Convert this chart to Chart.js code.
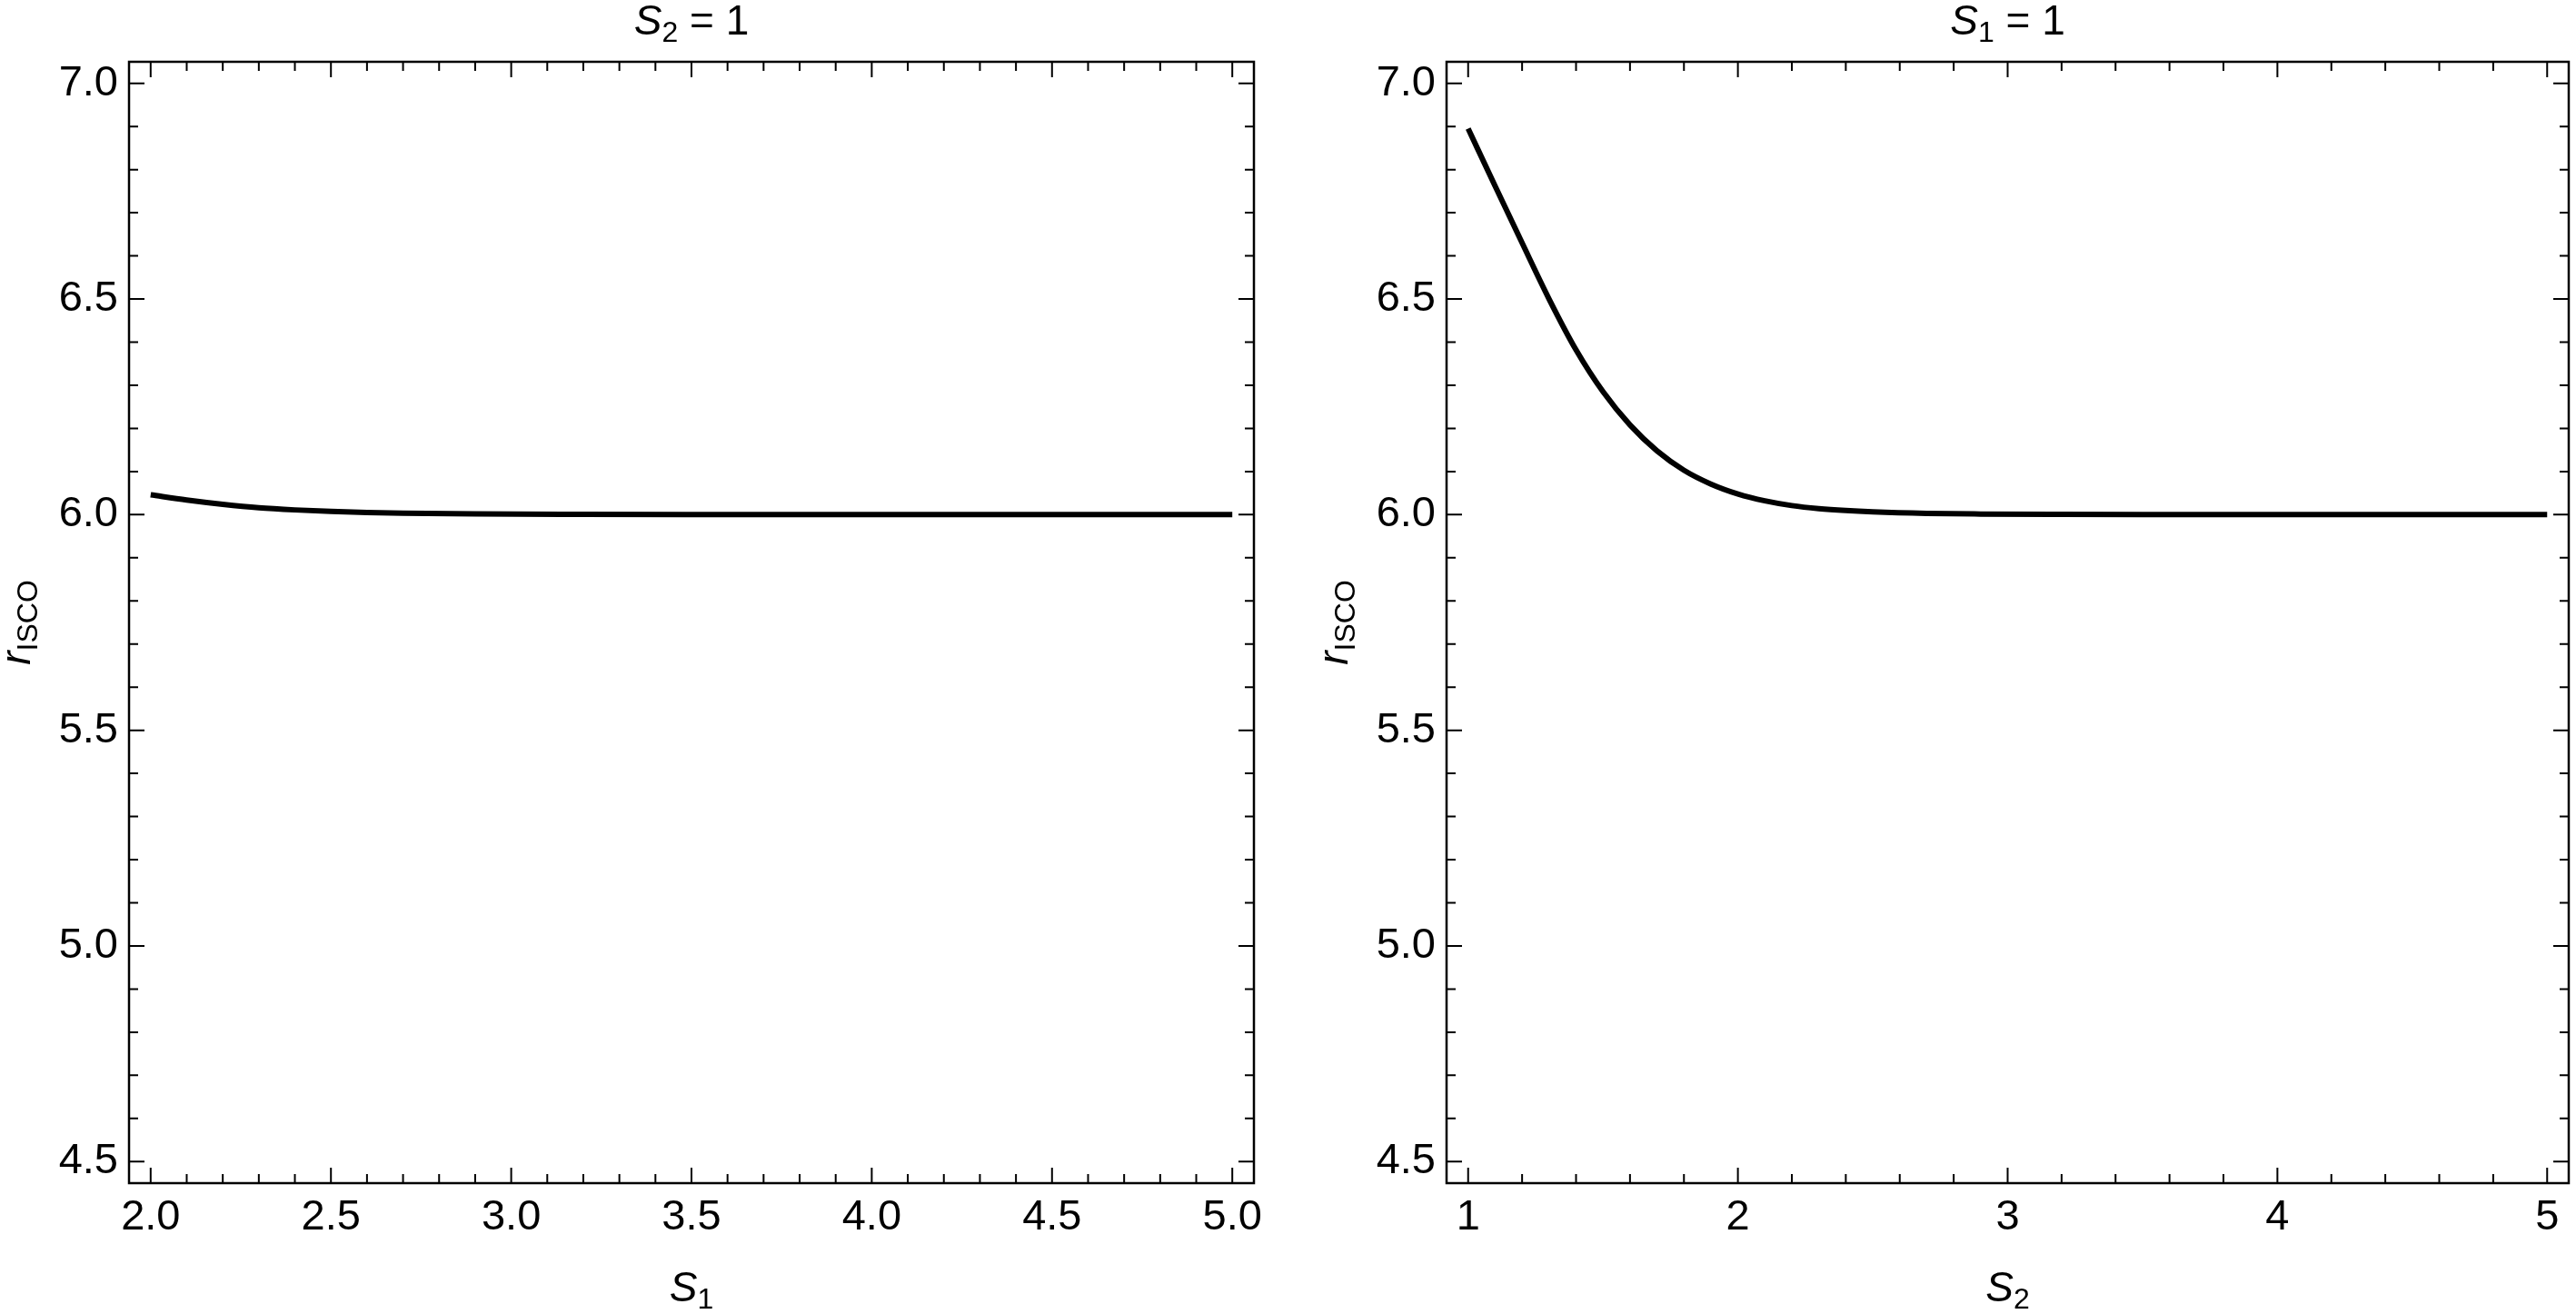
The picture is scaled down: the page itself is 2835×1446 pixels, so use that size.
<!DOCTYPE html>
<html>
<head>
<meta charset="utf-8">
<script src="https://cdn.jsdelivr.net/npm/chart.js@4.4.1/dist/chart.umd.min.js"></script>
<style>
  html, body { margin: 0; padding: 0; background: #fff; }
  .panel { position: absolute; top: 0; height: 1446px; }
  #left { left: 0; width: 1460px; }
  #right { left: 1450px; width: 1385px; }
</style>
</head>
<body>
<div class="panel" id="left"><canvas id="leftChart"></canvas></div>
<div class="panel" id="right"><canvas id="rightChart"></canvas></div>
<script>
// Left panel (S2 = 1): r_ISCO against S1
const s1Values = [2.0, 2.1, 2.2, 2.3, 2.4, 2.5, 2.6, 2.7, 2.9, 3.2, 3.5, 4.0, 4.5, 5.0];
const rIscoLeft = [6.046, 6.034, 6.024, 6.016, 6.011, 6.0075, 6.005, 6.0035, 6.0017, 6.0006, 6.0, 6.0, 6.0, 6.0];

// Right panel (S1 = 1): r_ISCO against S2
const s2Values = [1.0, 1.1, 1.2, 1.3, 1.4, 1.5, 1.6, 1.7, 1.8, 1.9, 2.0, 2.1, 2.2, 2.3, 2.4, 2.5, 2.7, 2.9, 3.2, 3.5, 4.0, 4.5, 5.0];
const rIscoRight = [6.895, 6.762, 6.630, 6.500, 6.382, 6.285, 6.208, 6.148, 6.103, 6.071, 6.048, 6.032, 6.021, 6.014,
  6.0095, 6.0065, 6.003, 6.0015, 6.0005, 6.0, 6.0, 6.0, 6.0];

// Tick labels
const leftXTicks = ['2.0', '2.5', '3.0', '3.5', '4.0', '4.5', '5.0'];
const rightXTicks = ['1', '2', '3', '4', '5'];
const yTicks = ['4.5', '5.0', '5.5', '6.0', '6.5', '7.0'];

const FONT = "'Liberation Sans', Arial, sans-serif";

function fontFor(p) {
  return (p[1] ? 'italic ' : '') + (p[2] ? 32 : 46) + 'px ' + FONT;
}

// draws [text, italic, subscript] parts centred on x
function richText(ctx, parts, x, y) {
  let w = 0;
  parts.forEach(p => { ctx.font = fontFor(p); w += ctx.measureText(p[0]).width; });
  let cx = x - w / 2;
  parts.forEach(p => {
    ctx.font = fontFor(p);
    ctx.fillText(p[0], cx, y + (p[2] ? 8 : 0));
    cx += ctx.measureText(p[0]).width;
  });
}

function eachTick(min, max, step, major, fn) {
  for (let k = Math.ceil(min / step - 1e-9); k <= Math.floor(max / step + 1e-9); k++) {
    const v = k * step;
    const r = v / major;
    fn(v, Math.abs(r - Math.round(r)) < 1e-6);
  }
}

const framePlugin = {
  id: 'frame',
  afterDraw(chart, args, opts) {
    const ctx = chart.ctx;
    const { left, right, top, bottom } = chart.chartArea;
    const xs = chart.scales.x, ys = chart.scales.y;
    ctx.save();
    ctx.strokeStyle = '#000';
    ctx.fillStyle = '#000';
    ctx.lineWidth = 2;
    ctx.beginPath();
    eachTick(xs.min, xs.max, opts.xMinor, opts.xMajor, (v, isMajor) => {
      const px = xs.getPixelForValue(v);
      const len = isMajor ? 17 : 10;
      ctx.moveTo(px, bottom); ctx.lineTo(px, bottom - len);
      ctx.moveTo(px, top); ctx.lineTo(px, top + len);
    });
    eachTick(ys.min, ys.max, 0.1, 0.5, (v, isMajor) => {
      const py = ys.getPixelForValue(v);
      const len = isMajor ? 17 : 10;
      ctx.moveTo(left, py); ctx.lineTo(left + len, py);
      ctx.moveTo(right, py); ctx.lineTo(right - len, py);
    });
    ctx.stroke();
    ctx.lineWidth = 2.5;
    ctx.strokeRect(left, top, right - left, bottom - top);

    ctx.textBaseline = 'alphabetic';
    const cx = (left + right) / 2;
    richText(ctx, opts.title, cx, 38);
    richText(ctx, opts.xTitle, cx, 1432);
    ctx.translate(33, (top + bottom) / 2);
    ctx.rotate(-Math.PI / 2);
    richText(ctx, [['r', true, false], ['ISCO', false, true]], 0, 0);
    ctx.restore();
  }
};

function makePanel(id, xVals, yVals, xLabels, xMin, xMax, xMinor, xMajor, padRight, title, xTitle) {
  const xNums = xLabels.map(Number);
  const yNums = yTicks.map(Number);
  return new Chart(document.getElementById(id), {
    type: 'line',
    data: {
      datasets: [{
        data: xVals.map((x, i) => ({ x: x, y: yVals[i] })),
        borderColor: '#000',
        borderWidth: 6,
        pointRadius: 0,
        fill: false,
        cubicInterpolationMode: 'monotone'
      }]
    },
    options: {
      responsive: true,
      maintainAspectRatio: false,
      animation: false,
      layout: { padding: { top: 68, right: padRight, bottom: 0, left: 0 } },
      plugins: {
        legend: { display: false },
        tooltip: { enabled: false },
        frame: { title: title, xTitle: xTitle, xMinor: xMinor, xMajor: xMajor }
      },
      scales: {
        x: {
          type: 'linear', min: xMin, max: xMax,
          grid: { display: false, drawTicks: false },
          border: { display: false },
          ticks: {
            color: '#000', padding: 10, maxRotation: 0,
            font: { family: FONT, size: 47 },
            callback: (v, i) => xLabels[i]
          },
          afterBuildTicks: s => { s.ticks = xNums.map(v => ({ value: v })); },
          afterFit: s => { s.height = 144; }
        },
        y: {
          type: 'linear', min: 4.45, max: 7.05,
          grid: { display: false, drawTicks: false },
          border: { display: false },
          ticks: {
            color: '#000', padding: 12,
            font: { family: FONT, size: 47 },
            callback: (v, i) => yTicks[i]
          },
          afterBuildTicks: s => { s.ticks = yNums.map(v => ({ value: v })); },
          afterFit: s => { s.width = 142; }
        }
      }
    },
    plugins: [framePlugin]
  });
}

makePanel('leftChart', s1Values, rIscoLeft, leftXTicks, 1.94, 5.06, 0.1, 0.5, 80,
  [['S', true, false], ['2', false, true], [' = 1', false, false]],
  [['S', true, false], ['1', false, true]]);

makePanel('rightChart', s2Values, rIscoRight, rightXTicks, 0.92, 5.08, 0.2, 1, 8,
  [['S', true, false], ['1', false, true], [' = 1', false, false]],
  [['S', true, false], ['2', false, true]]);
</script>
</body>
</html>
